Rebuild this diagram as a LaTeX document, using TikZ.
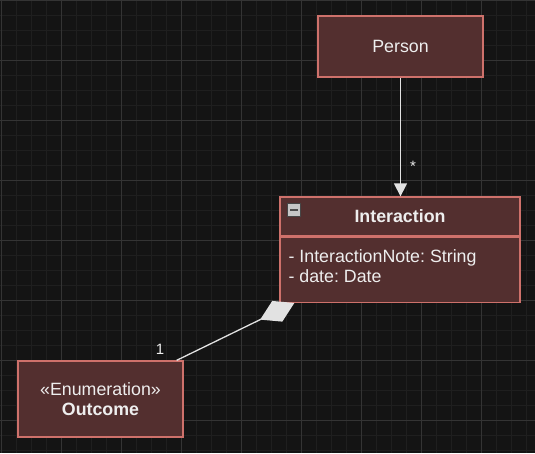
\documentclass[tikz,border=0pt]{standalone}
\usepackage{fontspec}
\setmainfont{Liberation Sans}
\usetikzlibrary{arrows.meta,positioning,calc}
\definecolor{canvasbg}{HTML}{141414}
\definecolor{gridminor}{HTML}{1F1F1F}
\definecolor{gridmajor}{HTML}{343434}
\definecolor{umlfill}{HTML}{532F2F}
\definecolor{umlline}{HTML}{CE716B}
\definecolor{umltext}{HTML}{EEEEEE}
\definecolor{connline}{HTML}{E2E2E2}
\newcommand{\umlfont}{\fontsize{17.8}{20}\selectfont}
\frenchspacing

\begin{document}
\begin{tikzpicture}[x=1pt,y=-1pt,
      cls/.style={draw=umlline,fill=umlfill,line width=1.3pt,text=umltext,
                  inner sep=0pt,align=center,font=\umlfont},
      attrs/.style={text=umltext,inner sep=0pt,align=left,font=\umlfont},
      toggle/.style={draw=gray!55!black,fill=gray!45,minimum size=13pt,
                     inner sep=0pt,line width=0.6pt},
      assoc/.style={connline,line width=1.3pt,
                    -{Triangle[length=13pt,width=13pt]}},
      aggr/.style={connline,line width=1.3pt,
                   -{Diamond[length=38pt,width=23pt,fill=connline]}},
      mult/.style={text=umltext,font=\fontsize{15}{17}\selectfont,inner sep=0pt}]

    % ================= canvas and grid =================
    \useasboundingbox (0,0) rectangle (535,453);
    \fill[canvasbg] (0,0) rectangle (535,453);
    \foreach \gx in {1,16,...,535} \draw[gridminor,line width=1pt] (\gx,0) -- (\gx,453);
    \foreach \gy in {0,15,...,453} \draw[gridminor,line width=1pt] (0,\gy) -- (535,\gy);
    \foreach \gx in {1,61,...,535} \draw[gridmajor,line width=1pt] (\gx,0) -- (\gx,453);
    \foreach \gy in {0,60,...,453} \draw[gridmajor,line width=1pt] (0,\gy) -- (535,\gy);

    % ================= classes =================
    \node[cls,minimum width=165pt,minimum height=61pt] (person) at (400.5,46.5)
      {Person};

    \node[cls,minimum width=240pt,minimum height=39pt] (interhead) at (400,216.5)
      {\bfseries Interaction};
    \node[cls,minimum width=240pt,minimum height=65pt,anchor=north] (interbody)
      at (interhead.south) {};
    \node[attrs,anchor=north west] (interattrs) at ($(interbody.north west)+(9,13)$)
      {- InteractionNote: String\\- date: Date};
    \node[toggle] (tglbox) at (294,210) {};
    \draw[line width=2pt,black!70] ($(tglbox.west)+(3,0)$) -- ($(tglbox.east)+(-3,0)$);

    \node[cls,minimum width=165pt,minimum height=76pt] (outcome) at (100.5,399)
      {\guillemotleft Enumeration\guillemotright\\ \textbf{Outcome}};

    % ================= connectors =================
    \draw[assoc] (person.south) -- (person.south |- interhead.north);
    \node[mult] (manystar) at (413,166) {*};

    \coordinate (aggstart) at ([xshift=-7pt]outcome.north east);
    \coordinate (aggend) at ([xshift=15pt]interbody.south west);
    \draw[aggr] (aggstart) -- (aggend);
    \node[mult] (onemult) at (160,349) {1};
  \end{tikzpicture}
\end{document}
